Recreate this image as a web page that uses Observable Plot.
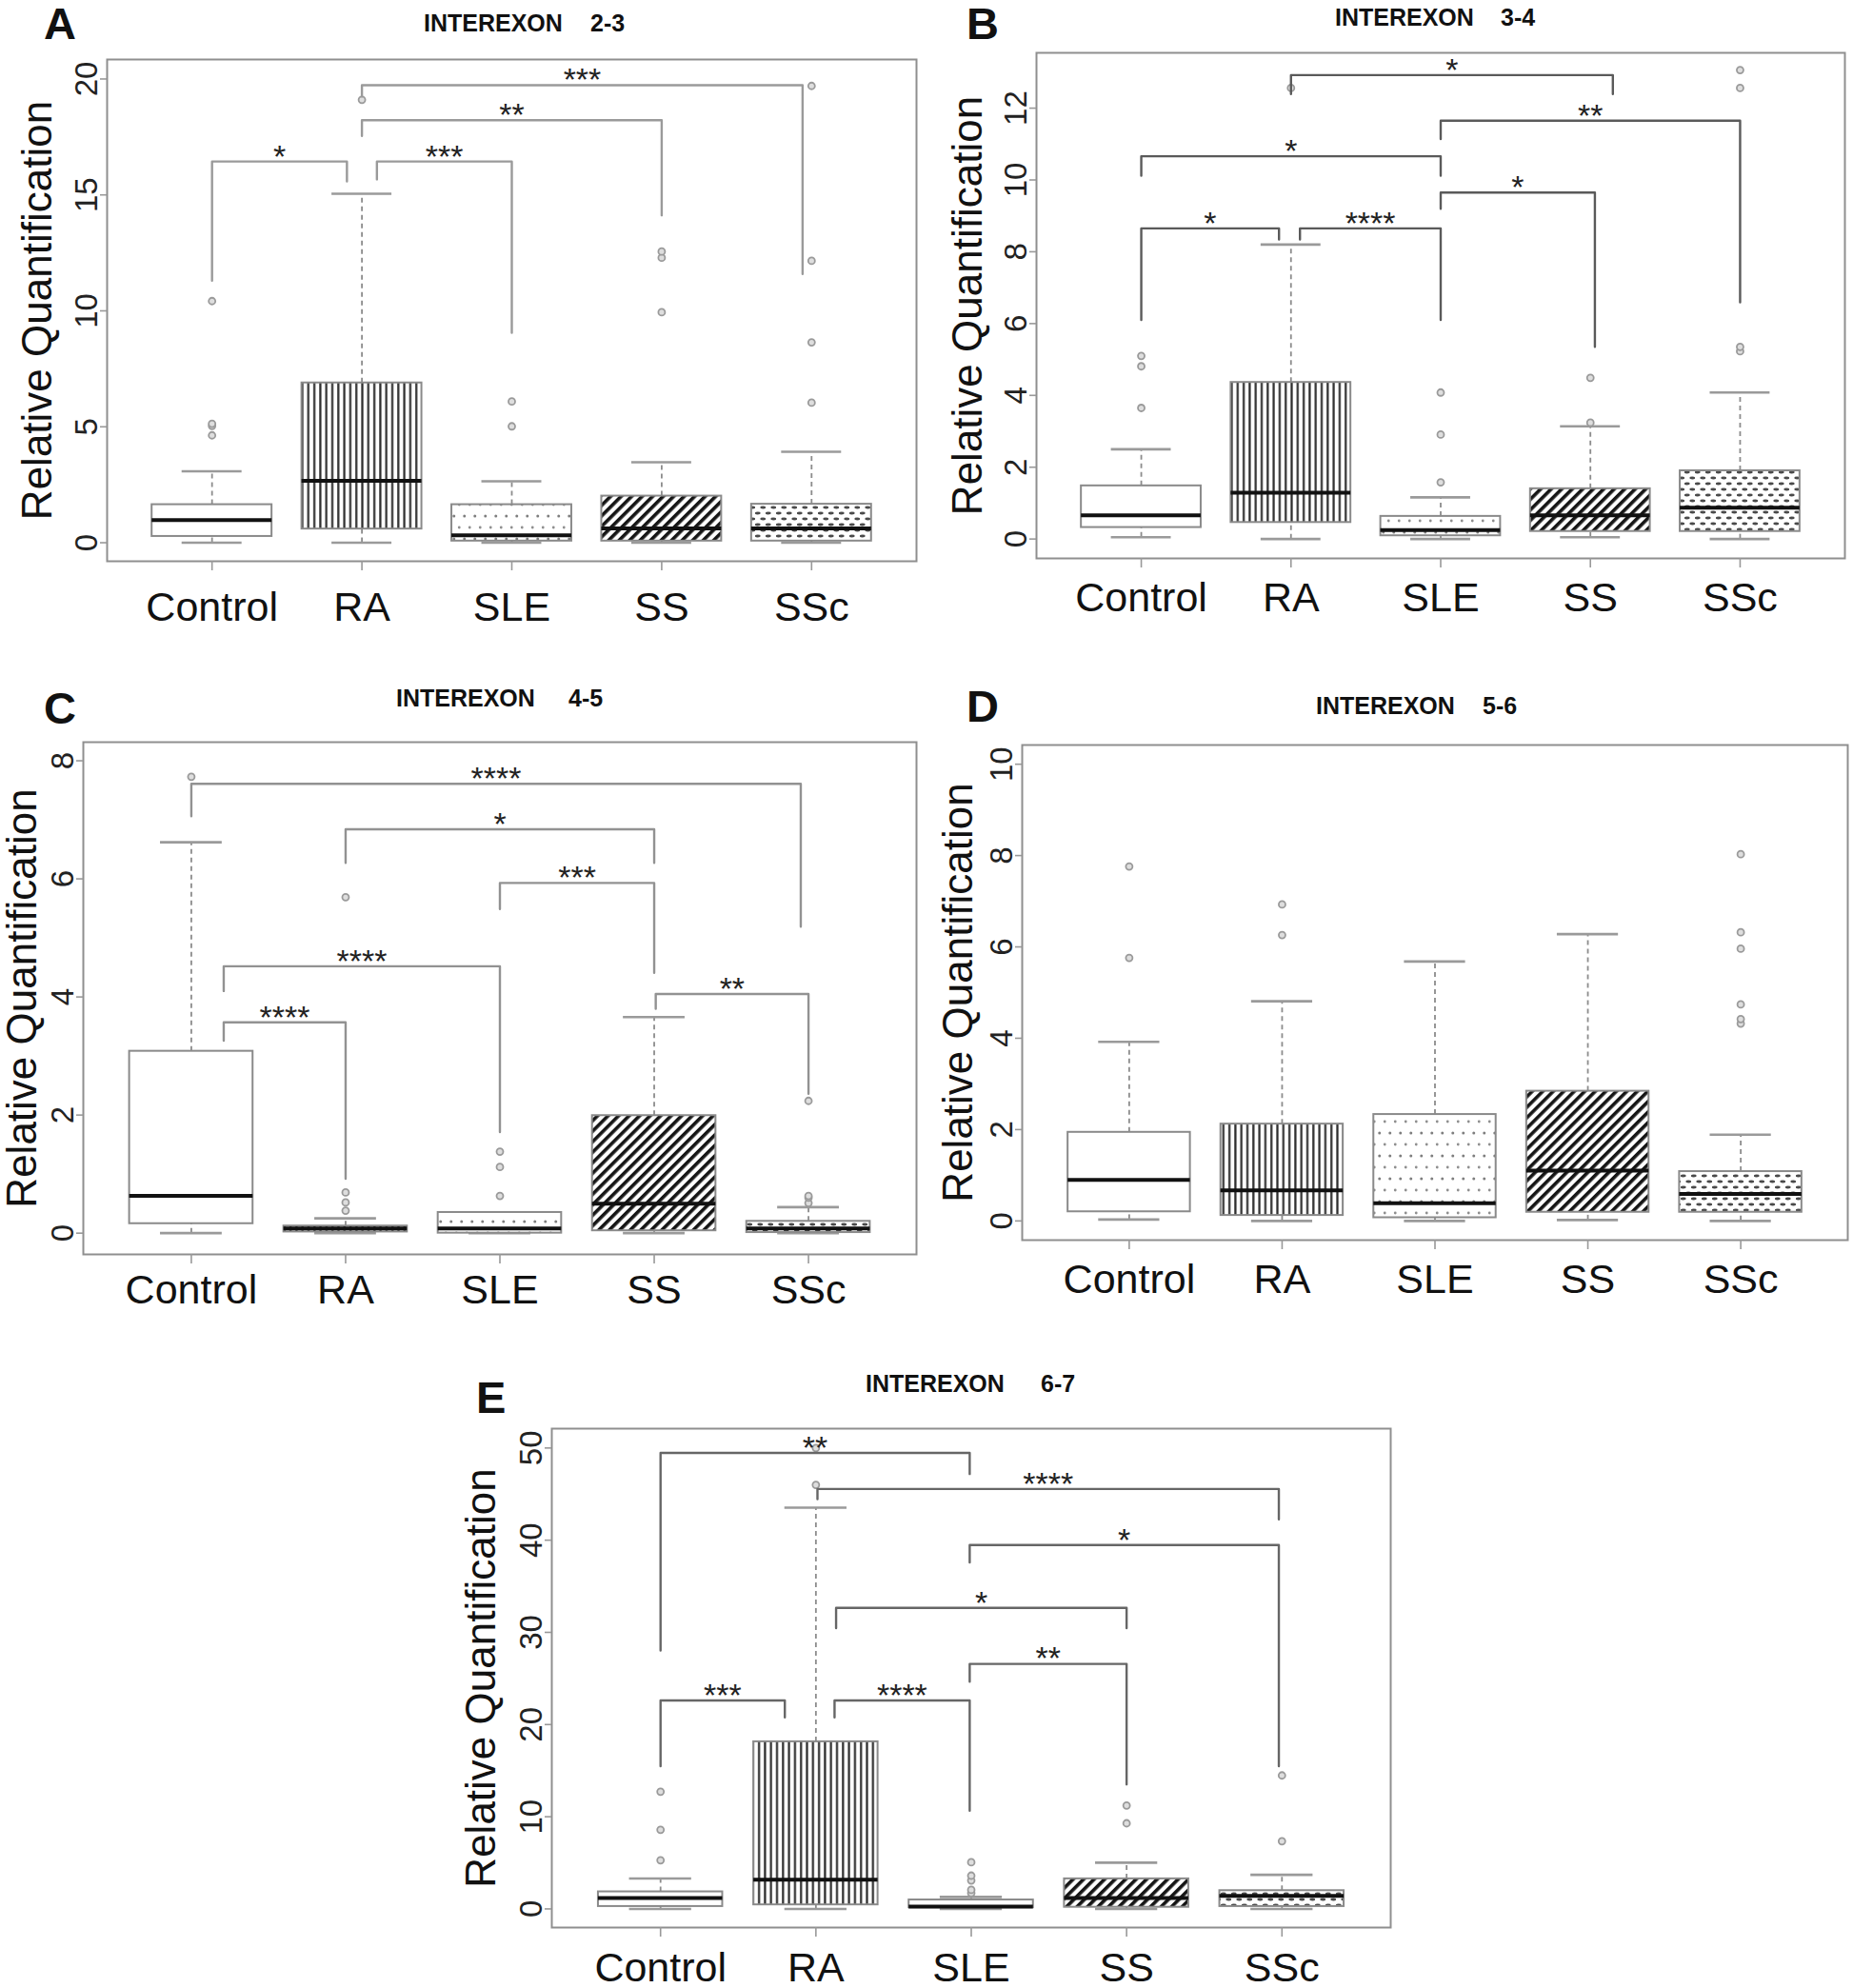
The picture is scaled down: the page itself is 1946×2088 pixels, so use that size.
<!DOCTYPE html>
<html>
<head>
<meta charset="utf-8">
<script src="https://cdn.jsdelivr.net/npm/d3@7"></script>
<script src="https://cdn.jsdelivr.net/npm/@observablehq/plot@0.6"></script>
<style>
  html, body { margin: 0; padding: 0; background: #fff; }
  body { width: 1946px; height: 2088px; position: relative; overflow: hidden;
         font-family: "Liberation Sans", Arial, Helvetica, sans-serif; color: #111; }
  .abs { position: absolute; line-height: 1; white-space: pre; }
  .letter { font-weight: bold; font-size: 47px; }
  .title { font-weight: bold; font-size: 25px; }
  svg.panel { position: absolute; overflow: visible; }
</style>
</head>
<body>
<svg width="0" height="0" style="position:absolute">
  <defs>
    <pattern id="pRA" patternUnits="userSpaceOnUse" width="6.3" height="10">
      <rect width="6.3" height="10" fill="#fff"/>
      <rect x="2" y="0" width="2.2" height="10" fill="#2b2b2b"/>
    </pattern>
    <pattern id="pSLE" patternUnits="userSpaceOnUse" width="11" height="24">
      <rect width="11" height="24" fill="#fff"/>
      <circle cx="2.75" cy="6" r="1.5" fill="#7e7e7e"/>
      <circle cx="8.25" cy="18" r="1.4" fill="#8e8e8e"/>
    </pattern>
    <pattern id="pSS" patternUnits="userSpaceOnUse" width="7.8" height="7.8" patternTransform="rotate(45)">
      <rect width="7.8" height="7.8" fill="#fff"/>
      <rect x="0" y="0" width="3.6" height="7.8" fill="#151515"/>
    </pattern>
    <pattern id="pSSc" patternUnits="userSpaceOnUse" width="11" height="12">
      <rect width="11" height="12" fill="#fff"/>
      <ellipse cx="2.75" cy="3" rx="3" ry="1.4" fill="#4a4a4a"/>
      <ellipse cx="8.25" cy="9" rx="3" ry="1.4" fill="#4a4a4a"/>
    </pattern>
  </defs>
</svg>
<script>
// ---------------- DATA ----------------
const categories = ["Control", "RA", "SLE", "SS", "SSc"];
const yLabel = "Relative Quantification";

// Panel A — INTEREXON 2-3
const A_lo  = [0, 0, 0, 0, 0];
const A_q1  = [0.27, 0.59, 0.07, 0.07, 0.07];
const A_med = [0.98, 2.67, 0.32, 0.62, 0.62];
const A_q3  = [1.64, 6.89, 1.64, 2.01, 1.66];
const A_hi  = [3.08, 15.05, 2.65, 3.47, 3.92];
const A_out = [[4.63, 5.04, 5.13, 10.42], [19.1], [5.02, 6.09], [9.94, 12.29, 12.56], [6.04, 8.64, 12.16, 19.7]];
// brackets: [left x, right x, bar level, left leg end, right leg end, label]
const A_brk = [
  [1, 1.9, 16.44, 11.3, 15.58, "*"],
  [2.1, 3, 16.44, 15.67, 9.05, "***"],
  [2, 4, 18.22, 17.54, 14.12, "**"],
  [2, 4.94, 19.73, 19.25, 11.59, "***"]
];
const A_ticks = [0, 5, 10, 15, 20];

// Panel B — INTEREXON 3-4
const B_lo  = [0.05, 0, 0, 0.05, 0];
const B_q1  = [0.32, 0.46, 0.09, 0.21, 0.21];
const B_med = [0.66, 1.29, 0.25, 0.66, 0.87];
const B_q3  = [1.48, 4.36, 0.63, 1.40, 1.90];
const B_hi  = [2.50, 8.20, 1.16, 3.14, 4.08];
const B_out = [[3.65, 4.81, 5.10], [12.56], [1.58, 2.91, 4.08], [3.24, 4.49], [5.23, 5.35, 12.56, 13.06]];
const B_brk = [
  [2, 4.15, 12.92, 12.39, 12.39, "*"],
  [3, 5, 11.65, 11.14, 6.59, "**"],
  [1, 3, 10.66, 10.12, 10.12, "*"],
  [3, 4.03, 9.65, 9.20, 5.35, "*"],
  [1, 1.92, 8.65, 6.10, 8.34, "*"],
  [2.06, 3, 8.65, 8.34, 6.10, "****"]
];
const B_ticks = [0, 2, 4, 6, 8, 10, 12];

// Panel C — INTEREXON 4-5
const C_lo  = [0, 0, 0, 0, 0];
const C_q1  = [0.16, 0.02, 0.0, 0.04, 0.01];
const C_med = [0.63, 0.08, 0.08, 0.50, 0.08];
const C_q3  = [3.08, 0.12, 0.35, 1.99, 0.20];
const C_hi  = [6.62, 0.25, 0.35, 3.66, 0.44];
const C_out = [[7.73], [0.38, 0.52, 0.69, 5.69], [0.63, 1.12, 1.38], [], [0.51, 0.60, 0.63, 2.24]];
const C_brk = [
  [1, 4.95, 7.61, 7.06, 5.19, "****"],
  [2, 4, 6.84, 6.27, 6.27, "*"],
  [3, 4, 5.93, 5.49, 4.41, "***"],
  [1.21, 3, 4.52, 4.10, 1.71, "****"],
  [4.01, 5, 4.05, 3.80, 2.36, "**"],
  [1.21, 2, 3.57, 3.26, 0.92, "****"]
];
const C_ticks = [0, 2, 4, 6, 8];

// Panel D — INTEREXON 5-6
const D_lo  = [0.03, 0, 0, 0.02, 0];
const D_q1  = [0.20, 0.12, 0.07, 0.19, 0.19];
const D_med = [0.90, 0.67, 0.39, 1.10, 0.59];
const D_q3  = [1.94, 2.12, 2.33, 2.84, 1.08];
const D_hi  = [3.92, 4.81, 5.68, 6.28, 1.89];
const D_out = [[5.76, 7.76], [6.26, 6.93], [], [], [4.32, 4.42, 4.74, 5.96, 6.32, 8.03]];
const D_brk = [];
const D_ticks = [0, 2, 4, 6, 8, 10];

// Panel E — INTEREXON 6-7
const E_lo  = [0, 0, 0, 0, 0];
const E_q1  = [0.26, 0.44, 0.13, 0.18, 0.26];
const E_med = [1.19, 3.17, 0.26, 1.19, 1.41];
const E_q3  = [1.85, 18.13, 0.97, 3.26, 1.98];
const E_hi  = [3.30, 43.53, 1.30, 5.02, 3.70];
const E_out = [[5.28, 8.58, 12.72], [46.0, 50.0], [1.72, 2.07, 3.08, 3.61, 5.06], [9.29, 11.22], [7.35, 14.48]];
const E_brk = [
  [1, 2.99, 49.47, 28.04, 47.18, "**"],
  [2.01, 4.98, 45.55, 44.45, 42.25, "****"],
  [2.99, 4.98, 39.48, 37.59, 15.49, "*"],
  [2.13, 4, 32.66, 30.46, 30.46, "*"],
  [2.99, 4, 26.58, 24.65, 13.51, "**"],
  [1, 1.8, 22.62, 15.49, 20.77, "***"],
  [2.12, 2.99, 22.62, 20.77, 10.65, "****"]
];
const E_ticks = [0, 10, 20, 30, 40, 50];

// ---------------- STYLE / LAYOUT ----------------
const fills = { Control: "#ffffff", RA: "url(#pRA)", SLE: "url(#pSLE)", SS: "url(#pSS)", SSc: "url(#pSSc)" };

const panels = [
  { letter: "A", num: "2-3", lx: 46, lb: 41, tx1: 445, tx2: 620, tb: 33,
    x0: 112, x1: 962, y0: 62, y1: 589, dom: [-0.80, 20.84], tp: 22, yl: 73, bc: "#9a9a9a",
    s: { lo: A_lo, q1: A_q1, med: A_med, q3: A_q3, hi: A_hi, out: A_out, brk: A_brk, ticks: A_ticks } },
  { letter: "B", num: "3-4", lx: 1015, lb: 41, tx1: 1402, tx2: 1576, tb: 27,
    x0: 1088, x1: 1937, y0: 55, y1: 586, dom: [-0.54, 13.54], tp: 15, yl: 72, bc: "#5a5a5a",
    s: { lo: B_lo, q1: B_q1, med: B_med, q3: B_q3, hi: B_hi, out: B_out, brk: B_brk, ticks: B_ticks } },
  { letter: "C", num: "4-5", lx: 46, lb: 760, tx1: 416, tx2: 597, tb: 742,
    x0: 87, x1: 962, y0: 779, y1: 1317, dom: [-0.36, 8.315], tp: 11, yl: 64, bc: "#929292",
    s: { lo: C_lo, q1: C_q1, med: C_med, q3: C_q3, hi: C_hi, out: C_out, brk: C_brk, ticks: C_ticks } },
  { letter: "D", num: "5-6", lx: 1015, lb: 758, tx1: 1382, tx2: 1557, tb: 750,
    x0: 1073, x1: 1940, y0: 782, y1: 1302, dom: [-0.42, 10.42], tp: 15, yl: 67, bc: "#777",
    s: { lo: D_lo, q1: D_q1, med: D_med, q3: D_q3, hi: D_hi, out: D_out, brk: D_brk, ticks: D_ticks } },
  { letter: "E", num: "6-7", lx: 500, lb: 1484, tx1: 909, tx2: 1093, tb: 1462,
    x0: 579, x1: 1460, y0: 1500, y1: 2024, dom: [-2.02, 52.1], tp: 16, yl: 74, bc: "#666",
    s: { lo: E_lo, q1: E_q1, med: E_med, q3: E_q3, hi: E_hi, out: E_out, brk: E_brk, ticks: E_ticks } }
];

function addText(cls, txt, x, baseline, fs) {
  const d = document.createElement("div");
  d.className = "abs " + cls;
  d.textContent = txt;
  d.style.left = x + "px";
  d.style.top = Math.max(0, baseline - 0.8465 * fs) + "px";
  document.body.appendChild(d);
}

function drawPanel(P) {
  const s = P.s;
  const rows = categories.map((c, i) => ({ cat: c, x: i + 1, lo: s.lo[i], q1: s.q1[i], med: s.med[i], q3: s.q3[i], hi: s.hi[i] }));
  const outs = s.out.flatMap((arr, i) => arr.map(v => ({ x: i + 1, y: v })));
  const legs = s.brk.flatMap((b, k) => [
    { k, x: b[0], y: b[3] }, { k, x: b[0], y: b[2] }, { k, x: b[1], y: b[2] }, { k, x: b[1], y: b[4] }
  ]);
  const mL = 100, mR = 6, mT = 6, mB = 62;
  const svg = Plot.plot({
    width: (P.x1 - P.x0) + mL + mR,
    height: (P.y1 - P.y0) + mT + mB,
    marginLeft: mL, marginRight: mR, marginTop: mT, marginBottom: mB,
    x: { domain: [0.3, 5.7] },
    y: { domain: P.dom },
    color: { type: "identity" },
    style: { fontFamily: '"Liberation Sans", Arial, Helvetica, sans-serif', background: "transparent", color: "#111" },
    marks: [
      Plot.ruleX(rows, { x: "x", y1: "q3", y2: "hi", stroke: "#8c8c8c", strokeWidth: 1.8, strokeDasharray: "5,4" }),
      Plot.ruleX(rows, { x: "x", y1: "lo", y2: "q1", stroke: "#8c8c8c", strokeWidth: 1.8, strokeDasharray: "5,4" }),
      Plot.ruleY(rows, { y: "hi", x1: d => d.x - 0.2, x2: d => d.x + 0.2, stroke: "#9a9a9a", strokeWidth: 2.6 }),
      Plot.ruleY(rows, { y: "lo", x1: d => d.x - 0.2, x2: d => d.x + 0.2, stroke: "#9a9a9a", strokeWidth: 2.6 }),
      Plot.rect(rows, { x1: d => d.x - 0.4, x2: d => d.x + 0.4, y1: "q1", y2: "q3", fill: d => fills[d.cat], stroke: "#8a8a8a", strokeWidth: 2 }),
      Plot.ruleY(rows, { y: "med", x1: d => d.x - 0.4, x2: d => d.x + 0.4, stroke: "#111", strokeWidth: 4 }),
      Plot.dot(outs, { x: "x", y: "y", r: 3.5, stroke: "#9a9a9a", strokeWidth: 1.8, fill: "#dedede" }),
      Plot.line(legs, { x: "x", y: "y", z: "k", stroke: P.bc, strokeWidth: 2.4 }),
      Plot.text(s.brk, { x: b => (b[0] + b[1]) / 2, y: b => b[2], text: b => b[5], fontSize: 34, dy: -5, fill: "#222" }),
      Plot.frame({ stroke: "#8f8f8f", strokeWidth: 2 }),
      Plot.axisX({ ticks: [1, 2, 3, 4, 5], tickFormat: i => categories[i - 1], tickSize: 10, tickPadding: P.tp,
                   fontSize: 43, stroke: "#999", fill: "#111", strokeWidth: 1.6, label: null }),
      Plot.axisY({ ticks: s.ticks, tickRotate: -90, tickSize: 7, tickPadding: 4,
                   fontSize: 33, stroke: "#999", fill: "#222", strokeWidth: 1.6, label: null }),
      Plot.text([yLabel], { frameAnchor: "left", textAnchor: "middle", lineAnchor: "middle", dx: -P.yl, rotate: -90, fontSize: 44, fill: "#111" })
    ]
  });
  svg.classList.add("panel");
  svg.style.left = (P.x0 - mL) + "px";
  svg.style.top = (P.y0 - mT) + "px";
  document.body.appendChild(svg);

  addText("letter", P.letter, P.lx, P.lb, 47);
  addText("title", "INTEREXON", P.tx1, P.tb, 25);
  addText("title", P.num, P.tx2, P.tb, 25);
}

panels.forEach(drawPanel);
</script>
</body>
</html>
